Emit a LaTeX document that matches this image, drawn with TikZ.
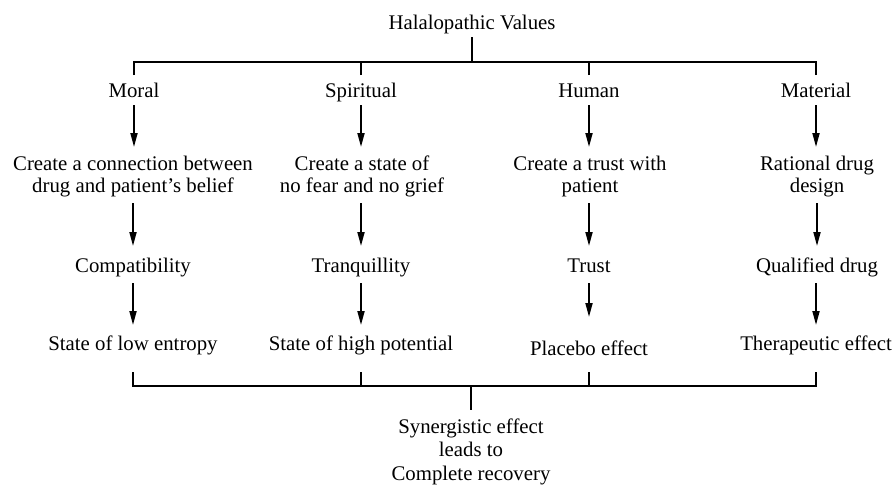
\documentclass[tikz,border=0pt]{standalone}
\usepackage{fontspec}
\setmainfont{Liberation Serif}
\usetikzlibrary{arrows.meta,calc}
\begin{document}
\begin{tikzpicture}[x=1pt,y=-1pt,
  lbl/.style={inner sep=0pt,outer sep=0pt,anchor=base,align=center,
    font=\fontsize{20.8}{22}\selectfont},
  thin/.style={line width=1.1pt},
  stem/.style={line width=2pt},
  arr/.style={line width=1.8pt,-{Triangle[length=14pt,width=7pt]}}]
\useasboundingbox (0,0) rectangle (896,485);
% nodes (base anchor = baseline of last line)
\node[lbl] (title) at (472,29) {Halalopathic Values};
\node[lbl] (moral) at (134,97) {Moral};
\node[lbl] (spir) at (361,97) {Spiritual};
\node[lbl] (hum) at (589,97) {Human};
\node[lbl] (mat) at (816,97) {Material};
\node[lbl] (c1) at (133,192) {Create a connection between\\drug and patient’s belief};
\node[lbl] (c2) at (362,192) {Create a state of\\no fear and no grief};
\node[lbl] (c3) at (590,192) {Create a trust with\\patient};
\node[lbl] (c4) at (817,192) {Rational drug\\design};
\node[lbl] (d1) at (133,272) {Compatibility};
\node[lbl] (d2) at (361,272) {Tranquillity};
\node[lbl] (d3) at (589,272) {Trust};
\node[lbl] (d4) at (817,272) {Qualified drug};
\node[lbl] (s1) at (133,350) {State of low entropy};
\node[lbl] (s2) at (361,350) {State of high potential};
\node[lbl] (s3) at (589,355) {Placebo effect};
\node[lbl] (s4) at (816,350) {Therapeutic effect};
\node[lbl,font=\fontsize{20.8}{23.5}\selectfont] (fin) at (471,480) {Synergistic effect\\leads to\\Complete recovery};
% junctions
\coordinate (jt) at (472,62);
\coordinate (jb) at (471,386);
% top bracket
\draw[stem] ($(title.base)+(0,8)$) -- (jt);
\draw[thin] ($(moral.base)+(0,-22)$) |- (jt);
\draw[thin] ($(mat.base)+(0,-22)$) |- (jt);
\draw[thin] ($(spir.base)+(0,-22)$) -- (spir.base |- jt);
\draw[thin] ($(hum.base)+(0,-22)$) -- (hum.base |- jt);
% arrows (vertical, in the column of the upper node)
\foreach \a/\b in {moral/c1,spir/c2,hum/c3,mat/c4}
  \draw[arr] ($(\a.base)+(0,8)$) -- ($(\a.base |- \b.base)+(0,-45)$);
\foreach \a/\b in {c1/d1,c2/d2,c3/d3,c4/d4}
  \draw[arr] ($(\b.base |- \a.base)+(0,11)$) -- ($(\b.base)+(0,-26)$);
\draw[arr] ($(d1.base)+(0,11)$) -- ($(d1.base |- s1.base)+(0,-25)$);
\draw[arr] ($(d2.base)+(0,11)$) -- ($(d2.base |- s2.base)+(0,-25)$);
\draw[arr] ($(d3.base)+(0,11)$) -- ($(d3.base |- s3.base)+(0,-38)$);
\draw[arr] ($(s4.base |- d4.base)+(0,11)$) -- ($(s4.base)+(0,-25)$);
% bottom bracket
\draw[thin] ($(s1.base)+(0,22)$) |- (jb);
\draw[thin] ($(s4.base)+(0,22)$) |- (jb);
\draw[thin] ($(s2.base)+(0,22)$) -- (s2.base |- jb);
\draw[thin] ($(s3.base)+(0,17)$) -- (s3.base |- jb);
\draw[stem] (jb) -- ($(fin.base)+(0,-70)$);
\end{tikzpicture}
\end{document}
